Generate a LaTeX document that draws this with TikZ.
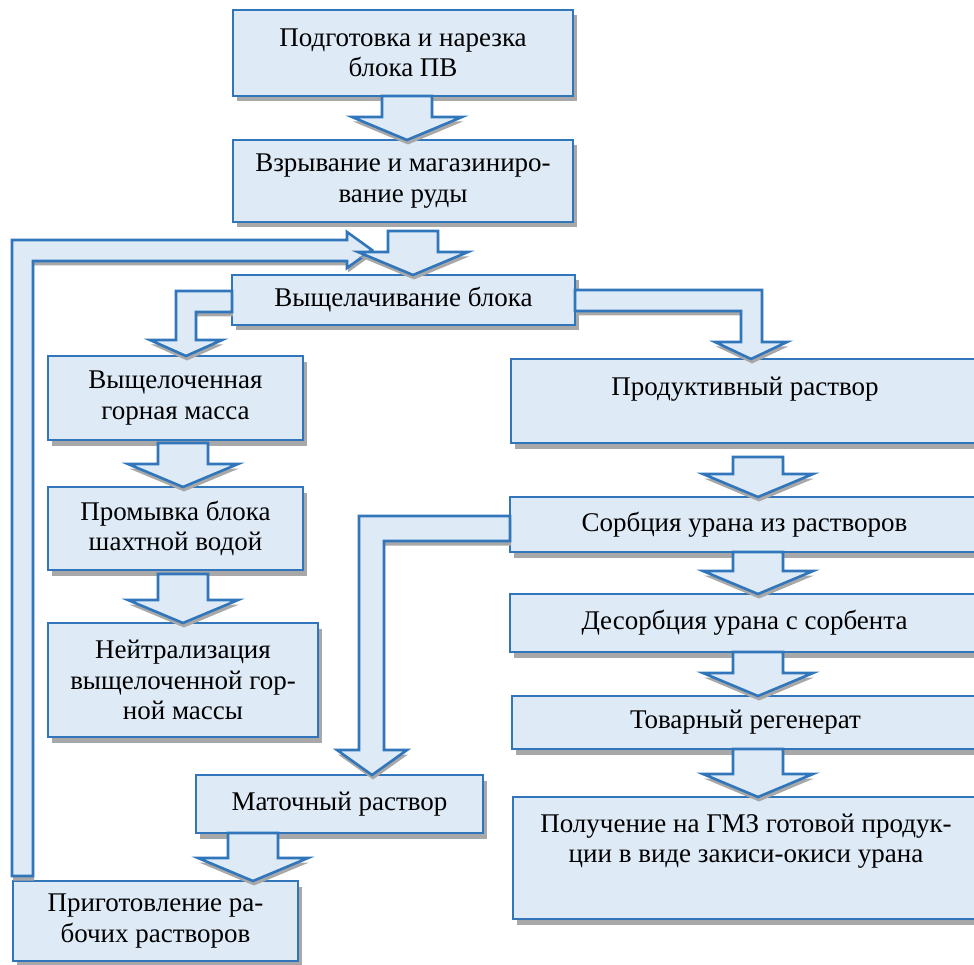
\documentclass[tikz,border=0pt]{standalone}
\usepackage{fontspec}
\setmainfont{Liberation Serif}
\usetikzlibrary{calc,shadows}
\definecolor{boxfill}{RGB}{222,234,246}
\definecolor{boxline}{RGB}{49,118,186}
\definecolor{shadowc}{RGB}{168,168,168}
\tikzset{
  txtfont/.style={font=\fontsize{27}{30.5}\selectfont},
  box/.style={draw=boxline, fill=boxfill, line width=2.6pt, rectangle,
    anchor=north west, outer sep=0pt, inner sep=0pt, align=center, txtfont,
    general shadow={fill=shadowc, shadow xshift=4pt, shadow yshift=-5.5pt}},
  txt/.style={inner sep=0pt, outer sep=0pt, align=center, txtfont},
  barrow/.style={draw=boxline, fill=boxfill, line width=2.6pt, line join=miter,
    general shadow={fill=shadowc, shadow xshift=1pt, shadow yshift=-4.5pt}},
}
\newcommand{\dnarrow}[4]{%
  \draw[barrow] let \p1=(#1.south), \p2=(#2.north) in
    ({#3pt-25pt},{\y1-#4pt}) -- ({#3pt+25pt},{\y1-#4pt}) -- ({#3pt+25pt},{\y2+23pt})
    -- ({#3pt+55pt},{\y2+23pt}) -- (#3pt,\y2) -- ({#3pt-55pt},{\y2+23pt})
    -- ({#3pt-25pt},{\y2+23pt}) -- cycle;}
\begin{document}
\begin{tikzpicture}[x=1pt,y=-1pt]
\useasboundingbox (0,0) rectangle (974,965);
\clip (0,0) rectangle (974,965);
% boxes
\node[box, minimum width=340pt, minimum height=86pt] (b1) at (233,10) {Подготовка и нарезка\\блока ПВ};
\node[box, minimum width=340pt, minimum height=82pt] (b2) at (233,140) {Взрывание и магазиниро-\\вание руды};
\node[box, minimum width=343pt, minimum height=50pt] (b3) at (232,275) {Выщелачивание блока};
\node[box, minimum width=255pt, minimum height=84pt] (b4) at (48,356) {Выщелоченная\\горная масса};
\node[box, minimum width=255pt, minimum height=83pt] (b5) at (48,487) {Промывка блока\\шахтной водой};
\node[box, minimum width=270pt, minimum height=114pt] (b6) at (48,623) {Нейтрализация\\выщелоченной гор-\\ной массы};
\node[box, minimum width=287pt, minimum height=58pt] (b7) at (196,775) {Маточный раствор};
\node[box, minimum width=285pt, minimum height=80pt] (b8) at (13,881) {Приготовление ра-\\бочих растворов};
\node[box, minimum width=468pt, minimum height=84pt] (b9) at (511,359) {};
\node[txt, anchor=base] (t9) at ($(b9.north)+(0,36)$) {Продуктивный раствор};
\node[box, minimum width=469pt, minimum height=55pt] (b10) at (510,497) {Сорбция урана из растворов};
\node[box, minimum width=469pt, minimum height=58pt] (b11) at (510,594) {Десорбция урана с сорбента};
\node[box, minimum width=467pt, minimum height=53pt] (b12) at (512,696) {Товарный регенерат};
\node[box, minimum width=466pt, minimum height=122pt] (b13) at (513,797) {};
\node[txt, anchor=north] (t13) at ($(b13.north)+(0,17)$) {Получение на ГМЗ готовой продук-\\ции в виде закиси-окиси урана};
% loop arrow from b8 back to the leaching stage
\draw[barrow] let \p1=(b8.north west) in
  (12pt,{\y1+5pt}) -- (12pt,-240pt) -- (347pt,-240pt) -- (347pt,-232pt) -- (372pt,-250pt)
  -- (347pt,-268pt) -- (347pt,-261pt) -- (33pt,-261pt) -- (33pt,{\y1+5pt}) -- cycle;
% straight arrows
\dnarrow{b1}{b2}{407}{0}
\dnarrow{b2}{b3}{413}{9}
\dnarrow{b4}{b5}{183}{3}
\dnarrow{b5}{b6}{183}{4}
\dnarrow{b9}{b10}{758}{14}
\dnarrow{b10}{b11}{758}{0}
\dnarrow{b11}{b12}{758}{0}
\dnarrow{b12}{b13}{758}{0}
\dnarrow{b7}{b8}{253}{0}
% branch to the left
\draw[barrow] let \p1=(b3.north west), \p2=(b4.north) in
  (\x1,-291pt) -- (176pt,-291pt) -- (176pt,{\y2+16pt}) -- (150pt,{\y2+16pt}) -- (186pt,\y2)
  -- (222pt,{\y2+16pt}) -- (196pt,{\y2+16pt}) -- (196pt,-312pt) -- (\x1,-312pt) -- cycle;
% branch to the right
\draw[barrow] let \p1=(b3.north east), \p2=(b9.north) in
  (\x1,-290pt) -- (762pt,-290pt) -- (762pt,{\y2+17pt}) -- (787pt,{\y2+17pt}) -- (751pt,\y2)
  -- (715pt,{\y2+17pt}) -- (741pt,{\y2+17pt}) -- (741pt,-311pt) -- (\x1,-311pt) -- cycle;
% mother liquor arrow
\draw[barrow] let \p1=(b10.north west), \p2=(b7.north) in
  (\x1,-516pt) -- (359pt,-516pt) -- (359pt,{\y2+25pt}) -- (337pt,{\y2+25pt}) -- (372pt,\y2)
  -- (407pt,{\y2+25pt}) -- (384pt,{\y2+25pt}) -- (384pt,-541pt) -- (\x1,-541pt) -- cycle;
\end{tikzpicture}
\end{document}
